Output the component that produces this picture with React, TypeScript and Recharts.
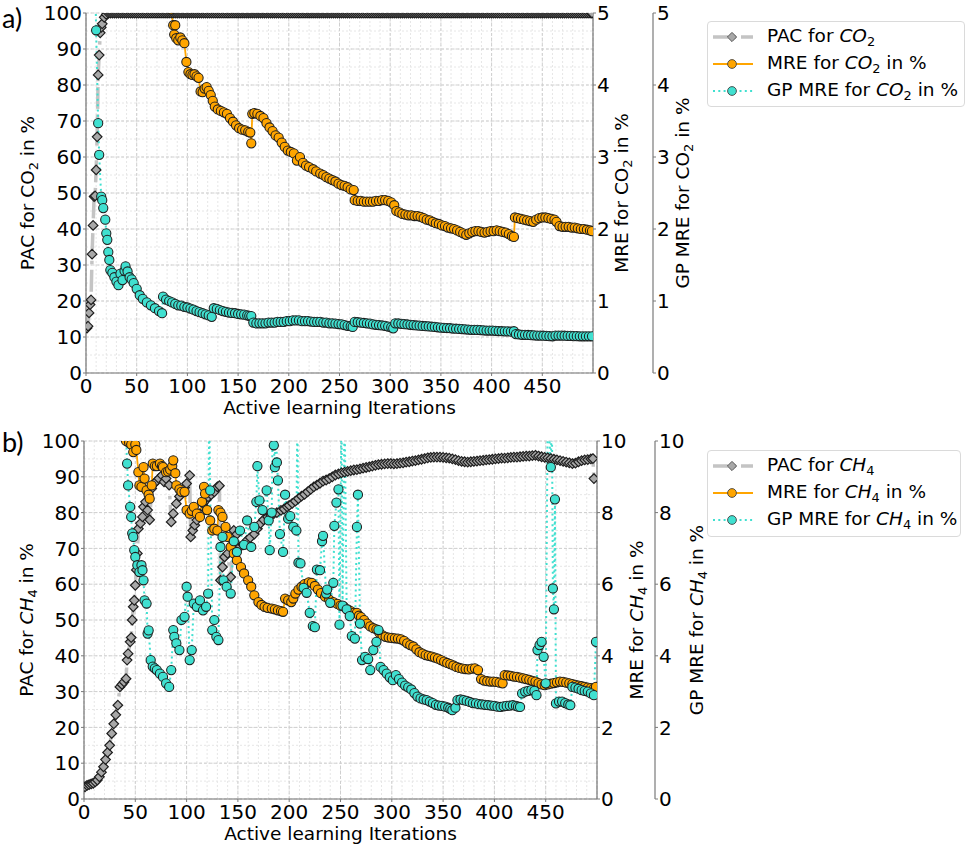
import React from 'react';
import { LineChart, Line, XAxis, YAxis, CartesianGrid, Legend } from 'recharts';

type Pt = [number, number];

// ---------------- Panel a) CO2 ----------------
const pacCO2: Pt[] = [
  [1, 12.5], [2, 13], [3, 16.7], [4, 19], [5, 20.3], [6, 33], [7, 41], [8, 49], [9, 49.2], [10, 56.4],
  [11, 65.6], [12, 82.8], [13, 88.3], [14, 94.5], [15, 96], [16, 97], [18, 98.8], [20, 99.6],
  [22, 100], [24, 100], [26, 100], [28, 100], [30, 100], [32, 100], [34, 100], [36, 100], [38, 100], [40, 100],
  [42, 100], [44, 100], [46, 100], [48, 100], [50, 100], [52, 100], [54, 100], [56, 100], [58, 100], [60, 100],
  [62, 100], [64, 100], [66, 100], [68, 100], [70, 100], [72, 100], [74, 100], [76, 100], [78, 100], [80, 100],
  [82, 100], [84, 100], [86, 100], [88, 100], [90, 100], [92, 100], [94, 100], [96, 100], [98, 100], [100, 100],
  [102, 100], [104, 100], [106, 100], [108, 100], [110, 100], [112, 100], [114, 100], [116, 100], [118, 100], [120, 100],
  [122, 100], [124, 100], [126, 100], [128, 100], [130, 100], [132, 100], [134, 100], [136, 100], [138, 100], [140, 100],
  [142, 100], [144, 100], [146, 100], [148, 100], [150, 100], [152, 100], [154, 100], [156, 100], [158, 100], [160, 100],
  [162, 100], [164, 100], [166, 100], [168, 100], [170, 100], [172, 100], [174, 100], [176, 100], [178, 100], [180, 100],
  [182, 100], [184, 100], [186, 100], [188, 100], [190, 100], [192, 100], [194, 100], [196, 100], [198, 100], [200, 100],
  [202, 100], [204, 100], [206, 100], [208, 100], [210, 100], [212, 100], [214, 100], [216, 100], [218, 100], [220, 100],
  [222, 100], [224, 100], [226, 100], [228, 100], [230, 100], [232, 100], [234, 100], [236, 100], [238, 100], [240, 100],
  [242, 100], [244, 100], [246, 100], [248, 100], [250, 100], [252, 100], [254, 100], [256, 100], [258, 100], [260, 100],
  [262, 100], [264, 100], [266, 100], [268, 100], [270, 100], [272, 100], [274, 100], [276, 100], [278, 100], [280, 100],
  [282, 100], [284, 100], [286, 100], [288, 100], [290, 100], [292, 100], [294, 100], [296, 100], [298, 100], [300, 100],
  [302, 100], [304, 100], [306, 100], [308, 100], [310, 100], [312, 100], [314, 100], [316, 100], [318, 100], [320, 100],
  [322, 100], [324, 100], [326, 100], [328, 100], [330, 100], [332, 100], [334, 100], [336, 100], [338, 100], [340, 100],
  [342, 100], [344, 100], [346, 100], [348, 100], [350, 100], [352, 100], [354, 100], [356, 100], [358, 100], [360, 100],
  [362, 100], [364, 100], [366, 100], [368, 100], [370, 100], [372, 100], [374, 100], [376, 100], [378, 100], [380, 100],
  [382, 100], [384, 100], [386, 100], [388, 100], [390, 100], [392, 100], [394, 100], [396, 100], [398, 100], [400, 100],
  [402, 100], [404, 100], [406, 100], [408, 100], [410, 100], [412, 100], [414, 100], [416, 100], [418, 100], [420, 100],
  [422, 100], [424, 100], [426, 100], [428, 100], [430, 100], [432, 100], [434, 100], [436, 100], [438, 100], [440, 100],
  [442, 100], [444, 100], [446, 100], [448, 100], [450, 100], [452, 100], [454, 100], [456, 100], [458, 100], [460, 100],
  [462, 100], [464, 100], [466, 100], [468, 100], [470, 100], [472, 100], [474, 100], [476, 100], [478, 100], [480, 100],
  [482, 100], [484, 100], [486, 100], [488, 100], [490, 100], [492, 100], [494, 100], [496, 100], [498, 100], [499, 100],
];

const mreCO2: Pt[] = [
  [84, 5.05], [86, 4.83], [87, 4.7], [88, 4.83], [89, 4.65], [91, 4.62], [93, 4.66], [95, 4.62], [97, 4.58], [99, 4.32],
  [101, 4.18], [103, 4.15], [105, 4.14], [107, 4.15], [109, 4.12], [111, 4.1], [113, 3.91], [115, 3.9], [117, 3.95], [119, 3.97],
  [121, 3.92], [123, 3.86], [125, 3.78], [127, 3.7], [130, 3.66], [133, 3.64], [136, 3.62], [139, 3.6], [142, 3.54], [145, 3.49],
  [148, 3.44], [151, 3.4], [154, 3.38], [157, 3.37], [160, 3.35], [162, 3.34], [163, 3.19], [164, 3.6], [166, 3.61], [169, 3.6],
  [172, 3.57], [175, 3.54], [178, 3.47], [181, 3.41], [184, 3.36], [187, 3.3], [190, 3.27], [193, 3.2], [196, 3.14], [199, 3.09],
  [202, 3.07], [205, 3.05], [208, 2.95], [211, 3.0], [214, 2.92], [217, 2.88], [220, 2.86], [224, 2.83], [227, 2.8], [231, 2.77],
  [234, 2.75], [237, 2.72], [240, 2.7], [243, 2.68], [246, 2.66], [249, 2.63], [252, 2.61], [255, 2.6], [258, 2.58], [261, 2.55],
  [264, 2.54], [265, 2.4], [268, 2.39], [271, 2.39], [274, 2.38], [277, 2.38], [280, 2.38], [283, 2.38], [286, 2.39], [289, 2.39],
  [292, 2.4], [295, 2.4], [298, 2.39], [301, 2.37], [304, 2.33], [306, 2.25], [309, 2.23], [312, 2.21], [315, 2.2], [318, 2.19],
  [321, 2.19], [324, 2.18], [327, 2.18], [330, 2.17], [333, 2.15], [336, 2.13], [339, 2.12], [342, 2.1], [345, 2.08], [348, 2.07],
  [351, 2.05], [354, 2.04], [357, 2.02], [360, 2.01], [363, 2.0], [366, 1.98], [369, 1.96], [372, 1.94], [375, 1.92], [378, 1.94],
  [381, 1.96], [384, 1.97], [387, 1.97], [390, 1.96], [393, 1.95], [396, 1.96], [399, 1.97], [402, 1.97], [405, 1.98], [408, 1.97],
  [411, 1.96], [414, 1.95], [417, 1.93], [420, 1.9], [422, 1.89], [423, 2.16], [426, 2.15], [429, 2.14], [432, 2.13], [435, 2.12],
  [438, 2.11], [441, 2.1], [444, 2.13], [447, 2.15], [450, 2.16], [453, 2.16], [456, 2.15], [459, 2.14], [462, 2.13], [464, 2.1],
  [467, 2.04], [470, 2.03], [473, 2.03], [476, 2.03], [479, 2.02], [482, 2.02], [485, 2.01], [488, 2.0], [491, 2.0], [494, 1.99],
  [497, 1.98], [499, 1.97],
];

const gpCO2: Pt[] = [
  [9, 5.5], [10, 4.76], [12, 3.47], [13, 3.03], [15, 2.45], [16, 2.4], [17, 2.29], [19, 2.13], [20, 1.94], [21, 1.85],
  [22, 1.68], [23, 1.57], [24, 1.43], [26, 1.39], [28, 1.33], [30, 1.27], [32, 1.22], [34, 1.38], [36, 1.29], [38, 1.42],
  [39, 1.48], [41, 1.41], [43, 1.33], [45, 1.3], [47, 1.25], [50, 1.17], [53, 1.08], [56, 1.03], [60, 0.98], [64, 0.94],
  [68, 0.9], [72, 0.86], [75, 0.83], [76, 1.06], [79, 1.02], [82, 1.0], [85, 0.98], [88, 0.96], [91, 0.94], [94, 0.935],
  [97, 0.92], [100, 0.91], [103, 0.895], [106, 0.88], [109, 0.86], [112, 0.845], [115, 0.83], [118, 0.815], [121, 0.8], [124, 0.78],
  [126, 0.9], [129, 0.89], [132, 0.875], [135, 0.86], [138, 0.85], [141, 0.84], [144, 0.835], [147, 0.83], [150, 0.82], [153, 0.815],
  [156, 0.81], [159, 0.8], [161, 0.795], [163, 0.79], [165, 0.7], [168, 0.69], [171, 0.69], [174, 0.69], [177, 0.69], [180, 0.7],
  [183, 0.7], [186, 0.7], [189, 0.71], [192, 0.71], [195, 0.71], [198, 0.72], [201, 0.72], [204, 0.73], [207, 0.73], [210, 0.73],
  [213, 0.72], [216, 0.72], [219, 0.72], [222, 0.715], [225, 0.71], [228, 0.71], [231, 0.71], [234, 0.7], [237, 0.7], [240, 0.69],
  [243, 0.69], [246, 0.685], [249, 0.68], [252, 0.675], [255, 0.665], [258, 0.655], [261, 0.65], [263, 0.64], [265, 0.71], [268, 0.705],
  [271, 0.7], [274, 0.695], [277, 0.69], [280, 0.685], [283, 0.675], [286, 0.67], [289, 0.665], [292, 0.66], [295, 0.655], [298, 0.645],
  [301, 0.635], [303, 0.62], [305, 0.69], [308, 0.688], [311, 0.684], [314, 0.678], [317, 0.674], [320, 0.67], [323, 0.665], [326, 0.66],
  [329, 0.657], [332, 0.653], [335, 0.65], [338, 0.647], [341, 0.643], [344, 0.64], [347, 0.635], [350, 0.63], [353, 0.628], [356, 0.625],
  [359, 0.622], [362, 0.618], [365, 0.615], [368, 0.612], [371, 0.61], [374, 0.606], [377, 0.603], [380, 0.6], [383, 0.6], [386, 0.598],
  [389, 0.596], [392, 0.593], [395, 0.59], [398, 0.59], [401, 0.589], [404, 0.586], [407, 0.583], [410, 0.58], [413, 0.579], [416, 0.578],
  [419, 0.576], [422, 0.58], [424, 0.54], [427, 0.535], [430, 0.53], [433, 0.53], [436, 0.528], [439, 0.525], [442, 0.523], [445, 0.52],
  [448, 0.52], [451, 0.518], [454, 0.515], [457, 0.512], [460, 0.51], [463, 0.52], [466, 0.52], [469, 0.52], [472, 0.518], [475, 0.515],
  [478, 0.515], [481, 0.513], [484, 0.512], [487, 0.51], [490, 0.51], [493, 0.51], [496, 0.51], [499, 0.51],
];

// ---------------- Panel b) CH4 ----------------
const pacCH4: Pt[] = [
  [1, 3.4], [3, 3.8], [5, 4.0], [7, 4.2], [9, 4.4], [11, 4.8], [13, 5.3], [15, 6.2], [17, 7.5], [19, 9],
  [21, 11], [23, 13], [25, 15], [27, 18.3], [29, 21], [31, 23.5], [33, 26.2], [35, 31.3], [37, 32], [39, 32.7],
  [41, 33.6], [42, 38.8], [43, 40.6], [45, 43.9], [46, 45.1], [47, 50], [48, 53.7], [49, 55.5], [50, 59.7], [51, 64],
  [52, 68.6], [53, 75.5], [55, 77], [57, 78.8], [58, 81.6], [60, 83], [62, 80.7], [64, 78], [66, 86.7], [68, 88],
  [70, 88.6], [73, 89.5], [76, 90.4], [78, 88.6], [80, 89.5], [83, 87.7], [85, 77.4], [87, 79.7], [90, 82.5], [93, 84.5],
  [95, 86.2], [98, 87], [100, 88.1], [103, 90.4], [104, 73.2], [106, 75], [108, 76.5], [110, 77.9], [113, 79.7], [116, 82.5],
  [119, 83.5], [121, 84.4], [124, 85], [127, 85.8], [130, 87.2], [132, 87.5], [133, 61.1], [135, 64.8], [137, 67.6], [140, 68.6],
  [143, 62], [145, 70], [146, 75], [149, 74], [152, 70.4], [155, 71], [159, 72.3], [162, 73], [166, 74], [169, 75.5],
  [172, 77], [175, 78], [179, 78.8], [182, 79.3], [185, 79.7], [188, 80], [192, 80.6], [195, 81], [198, 81.6], [200, 82.0],
  [203, 82.6], [206, 83.2], [209, 83.9], [212, 84.6], [215, 85.1], [218, 85.8], [221, 86.5], [224, 87.2], [227, 87.7], [230, 88.2],
  [233, 88.8], [236, 89.1], [239, 89.5], [242, 90.0], [245, 90.5], [248, 90.8], [251, 91.1], [254, 91.3], [257, 91.5], [260, 91.7],
  [263, 91.9], [266, 92.0], [269, 92.2], [272, 92.4], [275, 92.6], [278, 92.8], [281, 93.0], [284, 93.2], [287, 93.4], [290, 93.5],
  [293, 93.6], [296, 93.7], [299, 93.7], [302, 93.6], [305, 93.7], [308, 93.8], [311, 93.9], [314, 94.1], [317, 94.2], [320, 94.4],
  [323, 94.5], [326, 94.7], [329, 94.9], [332, 95.1], [335, 95.3], [338, 95.4], [341, 95.5], [344, 95.5], [347, 95.5], [350, 95.4],
  [353, 95.3], [356, 95.2], [359, 95.0], [362, 94.8], [365, 94.5], [368, 94.3], [371, 94.2], [374, 94.1], [377, 94.2], [380, 94.3],
  [383, 94.4], [386, 94.5], [389, 94.6], [392, 94.7], [395, 94.8], [398, 94.9], [401, 95.0], [404, 95.1], [407, 95.2], [410, 95.2],
  [413, 95.3], [416, 95.4], [419, 95.5], [422, 95.5], [425, 95.6], [428, 95.7], [431, 95.8], [434, 95.8], [437, 95.9], [440, 96.0],
  [443, 95.8], [446, 95.6], [449, 95.4], [452, 95.3], [455, 95.1], [458, 94.9], [461, 94.7], [464, 94.5], [467, 94.3], [470, 94.1],
  [473, 93.9], [476, 93.7], [479, 93.8], [482, 94.2], [485, 94.5], [488, 94.7], [491, 94.8], [494, 95.0], [496, 95.1], [497, 89.5],
];

const mreCH4: Pt[] = [
  [41, 10.0], [44, 9.95], [46, 9.9], [48, 9.69], [50, 9.9], [51, 9.75], [53, 9.13], [54, 8.76], [56, 8.72], [58, 9.27],
  [59, 8.95], [61, 8.62], [63, 8.5], [64, 8.39], [66, 8.76], [67, 9.37], [69, 9.3], [71, 9.3], [74, 9.37], [76, 9.3],
  [77, 9.27], [80, 9.13], [82, 9.15], [84, 9.2], [86, 9.3], [87, 9.46], [89, 9.1], [90, 8.76], [93, 8.65], [95, 8.58],
  [98, 8.58], [100, 8.07], [103, 7.97], [105, 8.05], [107, 8.16], [110, 7.97], [113, 7.88], [115, 8.3], [117, 8.72], [118, 8.53],
  [120, 8.07], [123, 7.78], [125, 7.5], [127, 7.55], [130, 7.5], [131, 8.07], [133, 8.0], [135, 7.88], [138, 7.6], [140, 7.32],
  [143, 7.04], [146, 6.86], [149, 6.67], [153, 6.48], [156, 6.3], [160, 6.11], [163, 5.93], [166, 5.69], [170, 5.5], [173, 5.42],
  [176, 5.37], [179, 5.34], [183, 5.32], [186, 5.3], [189, 5.27], [192, 5.25], [194, 5.23], [196, 5.6], [199, 5.55], [202, 5.5],
  [204, 5.6], [206, 5.74], [209, 5.85], [212, 5.93], [215, 6.0], [219, 6.05], [222, 6.04], [225, 5.95], [228, 5.85], [231, 5.75],
  [235, 5.65], [239, 5.57], [243, 5.5], [247, 5.45], [250, 5.4], [253, 5.38], [257, 5.3], [260, 5.25], [263, 5.2], [266, 5.2],
  [268, 5.12], [270, 5.08], [273, 5.0], [276, 4.9], [279, 4.82], [282, 4.77], [285, 4.74], [288, 4.64], [291, 4.57], [294, 4.53],
  [297, 4.51], [300, 4.5], [303, 4.49], [306, 4.48], [309, 4.46], [312, 4.42], [315, 4.35], [318, 4.3], [321, 4.26], [324, 4.18],
  [327, 4.1], [330, 4.06], [333, 4.02], [336, 4.0], [339, 3.98], [342, 3.95], [345, 3.92], [348, 3.88], [351, 3.84], [354, 3.8],
  [357, 3.77], [360, 3.73], [363, 3.69], [366, 3.66], [369, 3.64], [372, 3.63], [375, 3.62], [378, 3.64], [381, 3.65], [384, 3.6],
  [387, 3.35], [390, 3.31], [393, 3.29], [396, 3.28], [399, 3.28], [402, 3.27], [405, 3.25], [408, 3.23], [410, 3.46], [413, 3.45],
  [416, 3.44], [419, 3.42], [422, 3.41], [425, 3.39], [428, 3.37], [431, 3.35], [434, 3.33], [437, 3.3], [440, 3.28], [443, 3.24],
  [446, 3.2], [449, 3.18], [452, 3.2], [455, 3.22], [458, 3.24], [461, 3.26], [464, 3.28], [467, 3.27], [470, 3.25], [473, 3.23],
  [476, 3.21], [479, 3.19], [482, 3.17], [485, 3.15], [488, 3.13], [491, 3.11], [494, 3.1], [497, 3.09], [499, 3.13],
];

const gpCH4: Pt[] = [
  [40, 11], [42, 9.37], [43, 8.76], [45, 8.16], [46, 7.88], [47, 7.42], [48, 7.32], [49, 6.95], [50, 6.76], [52, 6.53],
  [54, 6.34], [56, 6.53], [57, 6.39], [58, 6.11], [59, 5.55], [61, 5.46], [62, 4.62], [63, 4.71], [65, 3.88], [67, 3.7],
  [69, 3.65], [71, 3.6], [74, 3.5], [77, 3.41], [80, 3.23], [83, 3.13], [85, 3.6], [87, 4.72], [88, 4.53], [90, 4.35],
  [93, 4.16], [95, 5.0], [98, 5.09], [100, 5.93], [101, 5.65], [103, 3.88], [105, 4.16], [107, 5.46], [110, 5.37], [113, 5.55],
  [116, 5.27], [119, 5.37], [121, 5.74], [122, 11], [123, 8.62], [125, 4.72], [127, 5.0], [129, 4.53], [131, 4.44], [133, 7.04],
  [135, 7.32], [136, 6.11], [139, 5.93], [143, 5.74], [146, 7.2], [149, 6.9], [152, 7.5], [156, 7.1], [159, 7.78], [163, 7.04],
  [166, 7.6], [168, 8.3], [169, 9.3], [171, 8.34], [174, 8.07], [178, 8.62], [180, 7.78], [181, 6.95], [183, 8.0], [184, 11],
  [185, 9.88], [186, 9.27], [187, 11], [188, 9.4], [189, 8.9], [191, 7.4], [194, 6.9], [196, 8.5], [199, 7.83], [201, 7.9],
  [204, 7.6], [207, 7.5], [208, 11], [209, 6.6], [211, 6.58], [214, 5.9], [217, 5.76], [220, 5.2], [223, 4.83], [225, 4.8],
  [227, 6.41], [230, 6.39], [232, 7.2], [233, 7.35], [236, 5.74], [237, 5.85], [240, 5.48], [243, 6.04], [244, 7.63], [246, 8.28],
  [248, 8.65], [249, 4.87], [251, 11], [252, 5.4], [254, 11], [256, 5.3], [259, 5.11], [261, 4.55], [264, 4.48], [266, 7.6],
  [267, 8.5], [269, 4.9], [271, 3.88], [274, 3.97], [277, 3.91], [279, 3.6], [282, 4.16], [285, 4.39], [287, 4.72], [289, 3.69],
  [292, 3.6], [295, 3.5], [298, 3.4], [301, 3.32], [304, 3.46], [307, 3.35], [310, 3.25], [313, 3.17], [316, 3.12], [319, 3.06],
  [322, 2.96], [325, 2.86], [328, 2.81], [331, 2.78], [334, 2.76], [337, 2.72], [340, 2.68], [343, 2.63], [346, 2.61], [349, 2.6],
  [352, 2.58], [355, 2.55], [357, 2.52], [359, 2.48], [362, 2.55], [364, 2.76], [367, 2.78], [370, 2.76], [373, 2.74], [376, 2.71],
  [379, 2.68], [382, 2.67], [385, 2.65], [388, 2.64], [391, 2.63], [394, 2.62], [397, 2.61], [400, 2.6], [403, 2.58], [406, 2.57],
  [409, 2.59], [412, 2.6], [415, 2.61], [418, 2.62], [421, 2.6], [423, 2.58], [425, 2.57], [427, 2.95], [430, 3.0], [433, 3.02],
  [436, 3.04], [439, 3.02], [441, 2.9], [442, 4.16], [444, 4.3], [446, 4.39], [448, 3.97], [450, 3.23], [452, 11], [455, 9.27],
  [456, 11], [457, 5.88], [458, 5.3], [459, 8.37], [460, 2.67], [463, 2.72], [466, 2.72], [469, 2.68], [472, 2.64], [474, 2.62],
  [476, 3.13], [479, 3.11], [482, 3.08], [485, 3.04], [488, 3.02], [491, 3.0], [494, 2.95], [497, 2.9], [499, 4.39],
];

// ---------------- ticks ----------------
const X_TICKS = [0, 50, 100, 150, 200, 250, 300, 350, 400, 450];
const PAC_TICKS = [0, 10, 20, 30, 40, 50, 60, 70, 80, 90, 100];
const MRE_CO2_TICKS = [0, 1, 2, 3, 4, 5];
const MRE_CH4_TICKS = [0, 2, 4, 6, 8, 10];

const range = (a: number, b: number, s: number) => {
  const r: number[] = [];
  for (let v = a; v <= b + 1e-9; v += s) r.push(Math.round(v * 1000) / 1000);
  return r;
};
const X_MINOR = range(0, 500, 10);
const X_MAJOR = range(0, 500, 50);
const Y_MINOR = range(0, 100, 5);
const Y_MAJOR = range(0, 100, 10);

const FONT = '"DejaVu Sans", Verdana, sans-serif';
const SPINE = '#7a7a7a';
const TICK_STYLE = { fontSize: 20, fill: '#000', fontFamily: FONT };
const C_PAC_LINE = '#c4c4c4';
const C_MRE = '#FFA500';
const C_GP = '#40E0D0';
const EDGE = '#1e1e1e';

const toRows = (pts: Pt[]) => pts.map(([x, y]) => ({ x, y }));

type Chem = { base: string; sub: string; italic: boolean };

const DiamondDot = (props: any) => {
  const { cx, cy, index } = props;
  if (typeof cx !== 'number' || typeof cy !== 'number' || isNaN(cx) || isNaN(cy)) return <g key={`dm-${index}`} />;
  const s = 4.8;
  return (
    <path
      key={`dm-${index}`}
      d={`M${cx},${cy - s}L${cx + s},${cy}L${cx},${cy + s}L${cx - s},${cy}Z`}
      fill="#a8a8a8"
      stroke={EDGE}
      strokeWidth={1.2}
    />
  );
};

const VTitle = ({ viewBox, dx, prefix, chem, suffix }: any) => {
  if (!viewBox) return null;
  const fs = 18.5;
  const x = viewBox.x + dx;
  const y = viewBox.y + viewBox.height / 2;
  return (
    <text
      transform={`translate(${x},${y}) rotate(-90)`}
      textAnchor="middle"
      fontFamily={FONT}
      fontSize={fs}
      fill="#000"
      style={{ whiteSpace: 'pre' }}
    >
      <tspan>{prefix}</tspan>
      <tspan fontStyle={chem.italic ? 'italic' : 'normal'}>{chem.base}</tspan>
      <tspan fontSize={fs * 0.7} dy={fs * 0.22}>{chem.sub}</tspan>
      <tspan dy={-fs * 0.22}>{suffix}</tspan>
    </text>
  );
};

const XTitle = ({ viewBox }: any) => {
  if (!viewBox) return null;
  return (
    <text
      x={viewBox.x + viewBox.width / 2}
      y={viewBox.y + 41}
      textAnchor="middle"
      fontFamily={FONT}
      fontSize={18.5}
      fill="#000"
    >
      Active learning Iterations
    </text>
  );
};

const ChemHtml = ({ chem }: { chem: Chem }) => (
  <>
    <i>{chem.base}</i>
    <span style={{ fontSize: '0.7em', position: 'relative', top: '0.28em' }}>{chem.sub}</span>
  </>
);

const LegendIcon = ({ kind }: { kind: 'pac' | 'mre' | 'gp' }) => (
  <svg width={40} height={14} style={{ display: 'block' }}>
    {kind === 'pac' && (
      <>
        <line x1={0} y1={7} x2={40} y2={7} stroke={C_PAC_LINE} strokeWidth={3.5} strokeDasharray="15 5 3 5" />
        <path d="M19,2.4L23.6,7L19,11.6L14.4,7Z" fill="#a8a8a8" stroke="#555" strokeWidth={1} />
      </>
    )}
    {kind === 'mre' && (
      <>
        <line x1={0} y1={7} x2={40} y2={7} stroke={C_MRE} strokeWidth={2} />
        <circle cx={19} cy={7} r={4.4} fill={C_MRE} stroke="#444" strokeWidth={0.9} />
      </>
    )}
    {kind === 'gp' && (
      <>
        <line x1={0} y1={7} x2={40} y2={7} stroke={C_GP} strokeWidth={2} strokeDasharray="2 3.3" />
        <circle cx={19} cy={7} r={4.4} fill={C_GP} stroke="#444" strokeWidth={0.9} />
      </>
    )}
  </svg>
);

const LegendBox = ({ chem }: { chem: Chem }) => {
  const rows: { kind: 'pac' | 'mre' | 'gp'; pre: string; post: string }[] = [
    { kind: 'pac', pre: 'PAC for ', post: '' },
    { kind: 'mre', pre: 'MRE for ', post: ' in %' },
    { kind: 'gp', pre: 'GP MRE for ', post: ' in %' },
  ];
  return (
    <div
      style={{
        boxSizing: 'border-box',
        width: '100%',
        height: '100%',
        border: '1px solid #dadada',
        borderRadius: 4,
        background: '#fff',
        fontFamily: FONT,
        fontSize: 18.5,
        color: '#000',
        paddingTop: 1,
      }}
    >
      {rows.map((r) => (
        <div key={r.kind} style={{ display: 'flex', alignItems: 'center', height: 27, whiteSpace: 'pre' }}>
          <div style={{ marginLeft: 5, width: 40 }}>
            <LegendIcon kind={r.kind} />
          </div>
          <div style={{ marginLeft: 14, lineHeight: 1 }}>
            {r.pre}
            <ChemHtml chem={chem} />
            {r.post}
          </div>
        </div>
      ))}
    </div>
  );
};

type PanelCfg = {
  height: number;
  marginTop: number;
  marginRight: number;
  leftWidth: number;
  mreWidth: number;
  gpWidth: number;
  pac: Pt[];
  mre: Pt[];
  gp: Pt[];
  mreMax: number;
  mreTicks: number[];
  axisChem: Chem;
  legendChem: Chem;
  titleDx: { left: number; mre: number; gp: number };
  legend: { left: number; top: number; width: number; height: number };
  names: { pac: string; mre: string; gp: string };
};

// axis ids chosen so that alphabetical and declaration order agree (MRE axis next to the plot)
const ID_PAC = 'a_pac';
const ID_MRE = 'b_mre';
const ID_GP = 'c_gp';

function Panel(p: PanelCfg) {
  const axisLine = { stroke: SPINE, strokeWidth: 1.2 };
  const tickLine = { stroke: SPINE, strokeWidth: 1 };
  const circle = (fill: string) => ({ r: 4.6, fill, stroke: EDGE, strokeWidth: 1.05, strokeDasharray: 'none' });
  return (
    <LineChart
      width={969}
      height={p.height}
      margin={{ top: p.marginTop, right: p.marginRight, bottom: 0, left: 0 }}
    >
      <CartesianGrid
        yAxisId={ID_PAC}
        horizontalValues={Y_MINOR}
        verticalValues={X_MINOR}
        stroke="#e6e6e6"
        strokeDasharray="2 2"
      />
      <CartesianGrid
        yAxisId={ID_PAC}
        horizontalValues={Y_MAJOR}
        verticalValues={X_MAJOR}
        stroke="#cfcfcf"
        strokeDasharray="3 2"
      />
      <XAxis
        dataKey="x"
        type="number"
        domain={[0, 500]}
        ticks={X_TICKS}
        interval={0}
        allowDataOverflow
        height={47}
        tickSize={3}
        tickMargin={3}
        tick={TICK_STYLE}
        axisLine={axisLine}
        tickLine={tickLine}
        label={{ content: (q: any) => <XTitle viewBox={q.viewBox} /> }}
      />
      <XAxis
        xAxisId="top"
        orientation="top"
        type="number"
        domain={[0, 500]}
        height={0}
        tick={false}
        tickLine={false}
        axisLine={axisLine}
      />
      <YAxis
        yAxisId={ID_PAC}
        orientation="left"
        type="number"
        domain={[0, 100]}
        ticks={PAC_TICKS}
        interval={0}
        allowDataOverflow
        width={p.leftWidth}
        tickSize={3}
        tickMargin={1}
        tick={TICK_STYLE}
        axisLine={axisLine}
        tickLine={tickLine}
        label={{
          content: (q: any) => (
            <VTitle viewBox={q.viewBox} dx={p.titleDx.left} prefix="PAC for " chem={p.axisChem} suffix=" in %" />
          ),
        }}
      />
      <YAxis
        yAxisId={ID_MRE}
        orientation="right"
        type="number"
        domain={[0, p.mreMax]}
        ticks={p.mreTicks}
        interval={0}
        allowDataOverflow
        width={p.mreWidth}
        tickSize={3}
        tickMargin={1}
        tick={TICK_STYLE}
        axisLine={axisLine}
        tickLine={tickLine}
        label={{
          content: (q: any) => (
            <VTitle viewBox={q.viewBox} dx={p.titleDx.mre} prefix="MRE for " chem={p.axisChem} suffix=" in %" />
          ),
        }}
      />
      <YAxis
        yAxisId={ID_GP}
        orientation="right"
        type="number"
        domain={[0, p.mreMax]}
        ticks={p.mreTicks}
        interval={0}
        allowDataOverflow
        width={p.gpWidth}
        tickSize={3}
        tickMargin={1}
        tick={TICK_STYLE}
        axisLine={axisLine}
        tickLine={tickLine}
        label={{
          content: (q: any) => (
            <VTitle viewBox={q.viewBox} dx={p.titleDx.gp} prefix="GP MRE for " chem={p.axisChem} suffix=" in %" />
          ),
        }}
      />
      <Line
        data={toRows(p.pac)}
        dataKey="y"
        yAxisId={ID_PAC}
        name={p.names.pac}
        type="linear"
        stroke={C_PAC_LINE}
        strokeWidth={3.5}
        strokeDasharray="22 5.6 3.5 5.6"
        dot={DiamondDot}
        activeDot={false}
        isAnimationActive={false}
      />
      <Line
        data={toRows(p.mre)}
        dataKey="y"
        yAxisId={ID_MRE}
        name={p.names.mre}
        type="linear"
        stroke={C_MRE}
        strokeWidth={1.8}
        dot={circle(C_MRE)}
        activeDot={false}
        isAnimationActive={false}
      />
      <Line
        data={toRows(p.gp)}
        dataKey="y"
        yAxisId={ID_GP}
        name={p.names.gp}
        type="linear"
        stroke={C_GP}
        strokeWidth={2}
        strokeDasharray="2 3.3"
        dot={circle(C_GP)}
        activeDot={false}
        isAnimationActive={false}
      />
      <Legend
        layout="horizontal"
        verticalAlign="middle"
        align="center"
        wrapperStyle={{ left: p.legend.left, top: p.legend.top, width: p.legend.width, height: p.legend.height }}
        content={() => <LegendBox chem={p.legendChem} />}
      />
    </LineChart>
  );
}

const panelLabelStyle: React.CSSProperties = {
  position: 'absolute',
  left: 2,
  fontFamily: 'Lato, "Open Sans", sans-serif',
  fontSize: 27,
  lineHeight: 1,
  color: '#000',
};

export default function App() {
  return (
    <div style={{ position: 'absolute', left: 0, top: 0, width: 969, height: 846, background: '#fff', overflow: 'hidden' }}>
      <div style={{ position: 'absolute', left: 0, top: 0 }}>
        <Panel
          height={420}
          marginTop={13}
          marginRight={256}
          leftWidth={86}
          mreWidth={60}
          gpWidth={60}
          pac={pacCO2}
          mre={mreCO2}
          gp={gpCO2}
          mreMax={5}
          mreTicks={MRE_CO2_TICKS}
          axisChem={{ base: 'CO', sub: '2', italic: false }}
          legendChem={{ base: 'CO', sub: '2', italic: true }}
          titleDx={{ left: 33.5, mre: 35, gp: 35.5 }}
          legend={{ left: 707, top: 21, width: 258, height: 86 }}
          names={{ pac: 'PAC for CO2', mre: 'MRE for CO2 in %', gp: 'GP MRE for CO2 in %' }}
        />
      </div>
      <div style={{ position: 'absolute', left: 0, top: 420 }}>
        <Panel
          height={426}
          marginTop={21}
          marginRight={254}
          leftWidth={84}
          mreWidth={58}
          gpWidth={60}
          pac={pacCH4}
          mre={mreCH4}
          gp={gpCH4}
          mreMax={10}
          mreTicks={MRE_CH4_TICKS}
          axisChem={{ base: 'CH', sub: '4', italic: true }}
          legendChem={{ base: 'CH', sub: '4', italic: true }}
          titleDx={{ left: 33.3, mre: 46, gp: 48 }}
          legend={{ left: 707, top: 30, width: 254, height: 87 }}
          names={{ pac: 'PAC for CH4', mre: 'MRE for CH4 in %', gp: 'GP MRE for CH4 in %' }}
        />
      </div>
      <div style={{ ...panelLabelStyle, top: 4 }}>a)</div>
      <div style={{ ...panelLabelStyle, top: 428 }}>b)</div>
    </div>
  );
}
